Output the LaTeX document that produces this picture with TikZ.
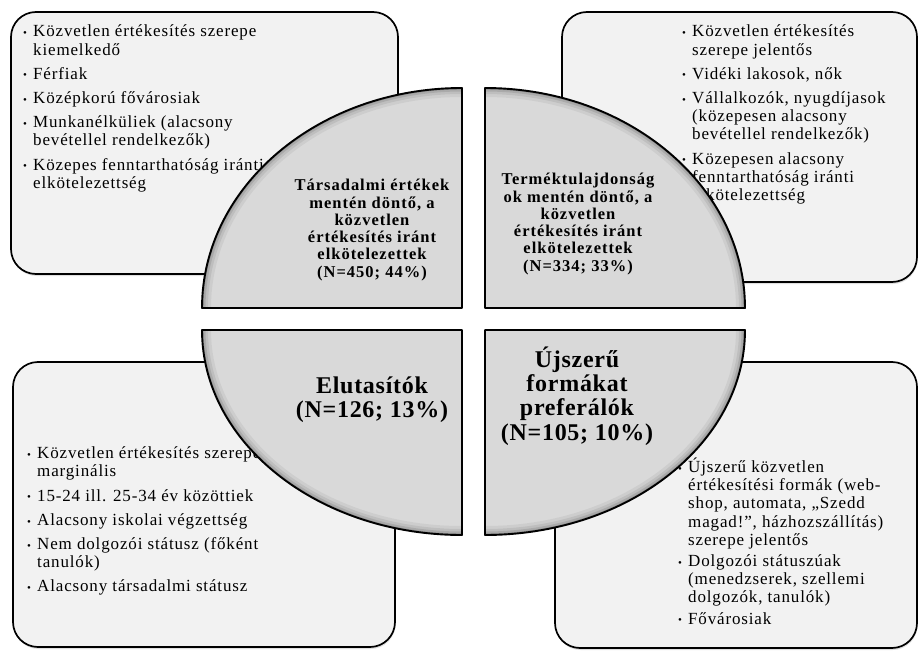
\documentclass[tikz,border=0pt]{standalone}
\usepackage{fontspec}
\setmainfont{Liberation Serif}
\newfontfamily\listfont[LetterSpace=5]{Liberation Serif}
\newfontfamily\quadfont[LetterSpace=6]{Liberation Serif}
\newfontfamily\bigquadfont[LetterSpace=3]{Liberation Serif}
\usetikzlibrary{shadows}
\definecolor{boxfill}{HTML}{F2F2F2}
\definecolor{quadfill}{HTML}{D9D9D9}
\newlength\bulw \setlength\bulw{10pt}
\newcommand\bul{\makebox[\bulw][l]{\raisebox{0.3pt}{\fontsize{11}{11}\selectfont\textbullet}}}
\newcommand\ind{\hspace*{\bulw}}
% one quarter of the central disc: corner, start of arc, start/end angle, vertical radius
\newcommand\quarter[5]{%
  \fill[quadfill] #1 -- #2 arc[start angle=#3, end angle=#4, x radius=260, y radius=#5] -- cycle;
  \begin{scope}
    \clip #1 -- #2 arc[start angle=#3, end angle=#4, x radius=260, y radius=#5] -- cycle;
    \foreach \sw/\so in {18/0.05, 12/0.07, 7/0.10, 3/0.15}
      \draw[line width=\sw pt, opacity=\so] #2 arc[start angle=#3, end angle=#4, x radius=260, y radius=#5];
  \end{scope}
  \draw[quadline] #1 -- #2 arc[start angle=#3, end angle=#4, x radius=260, y radius=#5] -- cycle;
}
\tikzset{
  panel/.style={draw=black, line width=1.7pt, fill=boxfill, rounded corners=25pt,
    drop shadow={shadow xshift=0.6pt, shadow yshift=-2pt, opacity=0.25}},
  quadline/.style={draw=black, line width=1.9pt, line join=round},
  listtext/.style={anchor=north west, inner sep=0pt, align=left,
    font=\listfont\fontsize{17}{18.2}\selectfont},
  quadtext/.style={inner sep=0pt, align=center,
    font=\quadfont\bfseries\fontsize{16.5}{17.3}\selectfont},
  bigtext/.style={inner sep=0pt, align=center,
    font=\bigquadfont\bfseries\fontsize{24}{24.3}\selectfont},
}
\begin{document}
\begin{tikzpicture}[x=1pt, y=1pt]
\useasboundingbox[fill=white] (0,0) rectangle (919,-653);

% outer panels
\path[panel] (11,-12) rectangle (398,-274);
\path[panel] (562,-12) rectangle (917,-282);
\path[panel] (13,-362) rectangle (395,-647);
\path[panel] (555,-362) rectangle (917,-648);

% panel texts
\node[listtext] (tllist) at (23,-23.9) {\strut\bul Közvetlen értékesítés szerepe\\ \ind kiemelkedő\\[6pt]
  \bul Férfiak\\[6pt]
  \bul Középkorú fővárosiak\\[6pt]
  \bul Munkanélküliek (alacsony\\ \ind bevétellel rendelkezők)\\[6pt]
  \bul Közepes fenntarthatóság iránti\\ \ind elkötelezettség};

\node[listtext] (trlist) at (682,-23.9) {\strut\bul Közvetlen értékesítés\\ \ind szerepe jelentős\\[6pt]
  \bul Vidéki lakosok, nők\\[6pt]
  \bul Vállalkozók, nyugdíjasok\\ \ind (közepesen alacsony\\ \ind bevétellel rendelkezők)\\[6pt]
  \bul Közepesen alacsony\\ \ind fenntarthatóság iránti\\ \ind elkötelezettség};

\node[listtext] (bllist) at (27,-445.8) {\strut\bul Közvetlen értékesítés szerepe\\ \ind marginális\\[6pt]
  \bul 15-24 ill. 25-34 év közöttiek\\[6pt]
  \bul Alacsony iskolai végzettség\\[6pt]
  \bul Nem dolgozói státusz (főként\\ \ind tanulók)\\[6pt]
  \bul Alacsony társadalmi státusz};

\node[listtext] (brlist) at (678,-457.8) {\strut\bul Újszerű közvetlen\\ \ind értékesítési formák (web-\\ \ind shop, automata, „Szedd\\ \ind magad!”, házhozszállítás)\\ \ind szerepe jelentős\\[3pt]
  \bul Dolgozói státuszúak\\ \ind (menedzserek, szellemi\\ \ind dolgozók, tanulók)\\[3pt]
  \bul Fővárosiak};

% central disc in four quarters
\quarter{(462,-308)}{(202,-308)}{180}{90}{220}
\quarter{(485,-308)}{(485,-88)}{90}{0}{220}
\quarter{(462,-330)}{(462,-535)}{270}{180}{205}
\quarter{(485,-330)}{(745,-330)}{0}{-90}{205}

% quarter labels
\node[quadtext] (q1) at (372,-230) {Társadalmi értékek\\mentén döntő, a\\közvetlen\\értékesítés iránt\\elkötelezettek\\(N=450; 44\%)};
\node[quadtext] (q2) at (578,-224) {Terméktulajdonság\\ok mentén döntő, a\\közvetlen\\értékesítés iránt\\elkötelezettek\\(N=334; 33\%)};
\node[bigtext] (q3) at (372,-400) {Elutasítók\\(N=126; 13\%)};
\node[bigtext] (q4) at (577,-396) {Újszerű\\formákat\\preferálók\\(N=105; 10\%)};
\end{tikzpicture}
\end{document}
